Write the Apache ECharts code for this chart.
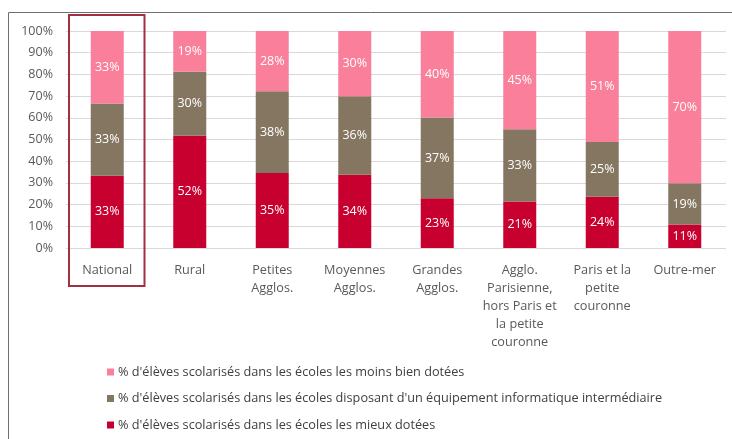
<!DOCTYPE html>
<html><head><meta charset="utf-8">
<script src="https://cdn.jsdelivr.net/npm/echarts@6/dist/echarts.min.js"></script>
<style>html,body{margin:0;padding:0;background:#fff}#c{width:732px;height:439px}</style>
</head><body><div id="c"></div>
<script>
const categories = ['National','Rural','Petites\nAgglos.','Moyennes\nAgglos.','Grandes\nAgglos.','Agglo.\nParisienne,\nhors Paris et\nla petite\ncouronne','Paris et la\npetite\ncouronne','Outre-mer'];
const mieuxDotees = [33.3, 51.7, 34.6, 33.7, 22.9, 21.4, 23.6, 10.8];
const intermediaire = [33.3, 29.5, 37.6, 36.2, 37.2, 33.3, 25.2, 19.0];
const moinsDotees = [33.4, 18.8, 27.8, 30.1, 39.9, 45.3, 51.2, 70.2];
const seriesNames = [
  "% d'élèves scolarisés dans les écoles les mieux dotées",
  "% d'élèves scolarisés dans les écoles disposant d'un équipement informatique intermédiaire",
  "% d'élèves scolarisés dans les écoles les moins bien dotées"
];
const yTicks = [0,10,20,30,40,50,60,70,80,90,100];

const FONT = "'Open Sans',sans-serif";
const colors = ['#c8002f', '#857662', '#f97f9b'];
const chart = echarts.init(document.getElementById('c'));
function mk(name, data, color){
  return {
    name, type:'bar', stack:'t', data, barWidth:33,
    itemStyle:{color},
    label:{show:true, position:'inside', color:'#fff', fontFamily:FONT, fontSize:12.5,
      formatter:p=>Math.round(p.value)+'%'}
  };
}
chart.setOption({
  animation:false,
  textStyle:{fontFamily:FONT},
  grid:{left:66, right:6, top:31, bottom:191, containLabel:false},
  xAxis:{type:'category', data:categories,
    axisLine:{show:false}, axisTick:{show:false},
    axisLabel:{color:'#595959', fontSize:12.7, fontFamily:FONT, lineHeight:18, margin:13, interval:0}},
  yAxis:{type:'value', min:yTicks[0], max:yTicks[yTicks.length-1], interval:10,
    axisLine:{show:false}, axisTick:{show:false},
    axisLabel:{color:'#595959', fontSize:12.5, fontFamily:FONT, margin:13, formatter:v=>v+'%'},
    splitLine:{lineStyle:{color:'#d9d9d9', width:1}}},
  legend:{orient:'vertical', left:107, top:363.5, padding:0, height:75, itemGap:9.5, itemWidth:7, itemHeight:7, icon:'rect',
    data:[seriesNames[2], seriesNames[1], seriesNames[0]],
    textStyle:{color:'#404040', fontSize:12.7, fontFamily:FONT, lineHeight:17, padding:[0,0,0,-1]}},
  series:[mk(seriesNames[0], mieuxDotees, colors[0]), mk(seriesNames[1], intermediaire, colors[1]), mk(seriesNames[2], moinsDotees, colors[2])]
});
const cx = chart.convertToPixel({xAxisIndex:0}, 0);
const step = chart.convertToPixel({xAxisIndex:0}, 1) - cx;
chart.setOption({graphic:[
  {type:'line', shape:{x1:8.5,y1:12.5,x2:732,y2:12.5}, style:{stroke:'#6f6f6f', lineWidth:1}},
  {type:'line', shape:{x1:8.5,y1:12.5,x2:8.5,y2:439}, style:{stroke:'#6f6f6f', lineWidth:1}},
  {type:'rect', shape:{x:cx-step/2+3, y:15, width:step-7, height:271}, style:{fill:'none', stroke:'#a33040', lineWidth:2}}
]});
</script></body></html>
